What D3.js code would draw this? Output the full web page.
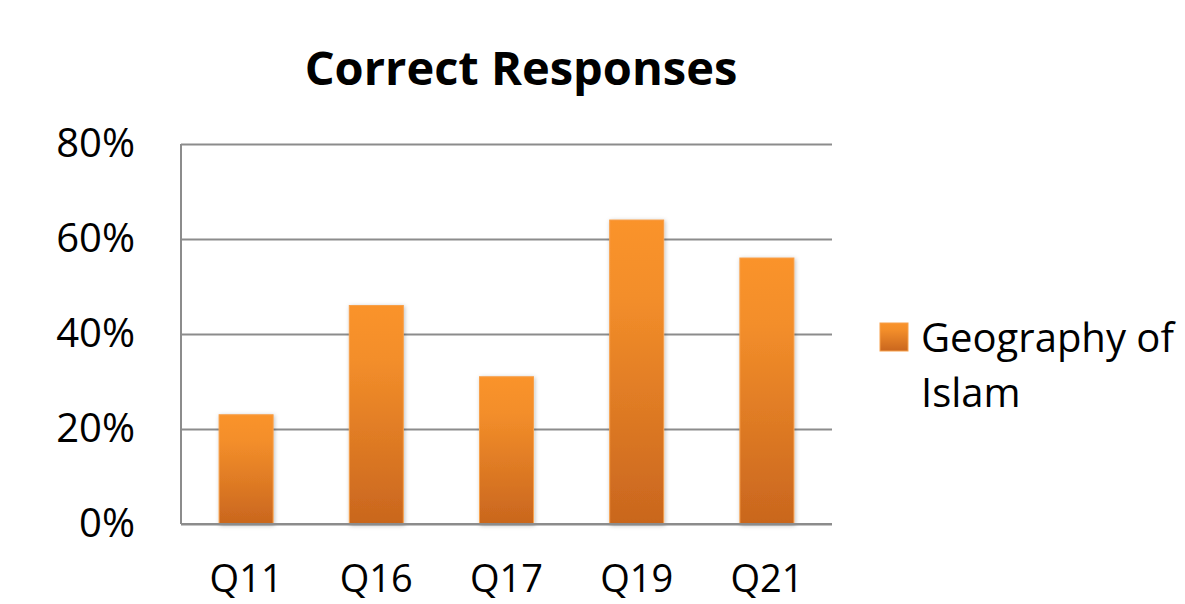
<!DOCTYPE html>
<html><head><meta charset="utf-8">
<script src="https://cdn.jsdelivr.net/npm/d3@7"></script>
<style>body{margin:0;background:#fff}svg{display:block}text{font-family:"Open Sans","Noto Sans",sans-serif;fill:#000}</style>
</head><body><svg id="c" width="1185" height="604"></svg>
<script>
const categories = ["Q11","Q16","Q17","Q19","Q21"];
const values = [0.23,0.46,0.31,0.64,0.56];
const yTicks = [0,0.2,0.4,0.6,0.8];
const seriesName = ["Geography of","Islam"];
const title = "Correct Responses";

const svg = d3.select("#c");
const m = {l:181,r:832,t:144,b:524};
const x = d3.scaleBand().domain(categories).range([m.l,m.r]).paddingInner(0.585).paddingOuter(0.2925);
const y = d3.scaleLinear().domain([0,0.8]).range([m.b,m.t]);

const defs = svg.append("defs");
const g = defs.append("linearGradient").attr("id","grad").attr("x1",0).attr("y1",0).attr("x2",0).attr("y2",1);
g.append("stop").attr("offset","0%").attr("stop-color","#fa932b");
g.append("stop").attr("offset","25%").attr("stop-color","#f38e2a");
g.append("stop").attr("offset","100%").attr("stop-color","#c9661e");
const f = defs.append("filter").attr("id","sh").attr("x","-20%").attr("y","-20%").attr("width","140%").attr("height","140%");
f.append("feDropShadow").attr("dx",1).attr("dy",1).attr("stdDeviation",2).attr("flood-color","#000").attr("flood-opacity",0.25);

svg.append("text").attr("x",521).attr("y",85).attr("text-anchor","middle")
  .style("font-size","47px").style("font-weight","bold").text(title);

// gridlines
const yAxis = d3.axisLeft(y).tickValues(yTicks).tickFormat(d3.format(".0%")).tickSize(-(m.r-m.l)).tickPadding(46);
const ga = svg.append("g").attr("transform",`translate(${m.l},0)`).call(yAxis);
ga.select(".domain").remove();
ga.selectAll(".tick line").attr("stroke","#8c8c8c").attr("stroke-width",2);
ga.selectAll(".tick text").style("font-size","40px").attr("dy","0.3em").attr("fill","#000");
svg.append("line").attr("x1",m.l).attr("x2",m.l).attr("y1",m.t).attr("y2",m.b).attr("stroke","#8c8c8c").attr("stroke-width",2);

svg.append("g").selectAll("rect").data(values).join("rect")
  .attr("x",(d,i)=>x(categories[i])).attr("width",x.bandwidth())
  .attr("y",d=>y(d)).attr("height",d=>y(0)-y(d))
  .attr("fill","url(#grad)").attr("stroke","#f7a04a").attr("stroke-width",1)
  .attr("filter","url(#sh)");

const xAxis = d3.axisBottom(x).tickSize(0).tickPadding(68);
const gx = svg.append("g").attr("transform",`translate(0,${m.b})`).call(xAxis);
gx.select(".domain").remove();
gx.selectAll(".tick text").style("font-size","38px").attr("dy","0em").attr("fill","#000");
svg.append("line").attr("x1",m.l).attr("x2",m.r).attr("y1",m.b).attr("y2",m.b).attr("stroke","#8c8c8c").attr("stroke-width",2);

const lg = svg.append("g");
lg.append("rect").attr("x",880).attr("y",323).attr("width",28).attr("height",28)
  .attr("fill","url(#grad)").attr("stroke","#f7a04a").attr("stroke-width",1);
lg.append("text").attr("x",921).attr("y",352).style("font-size","40px")
  .selectAll("tspan").data(seriesName).join("tspan").attr("x",921).attr("dy",(d,i)=>i?55:0).text(d=>d);
</script></body></html>
